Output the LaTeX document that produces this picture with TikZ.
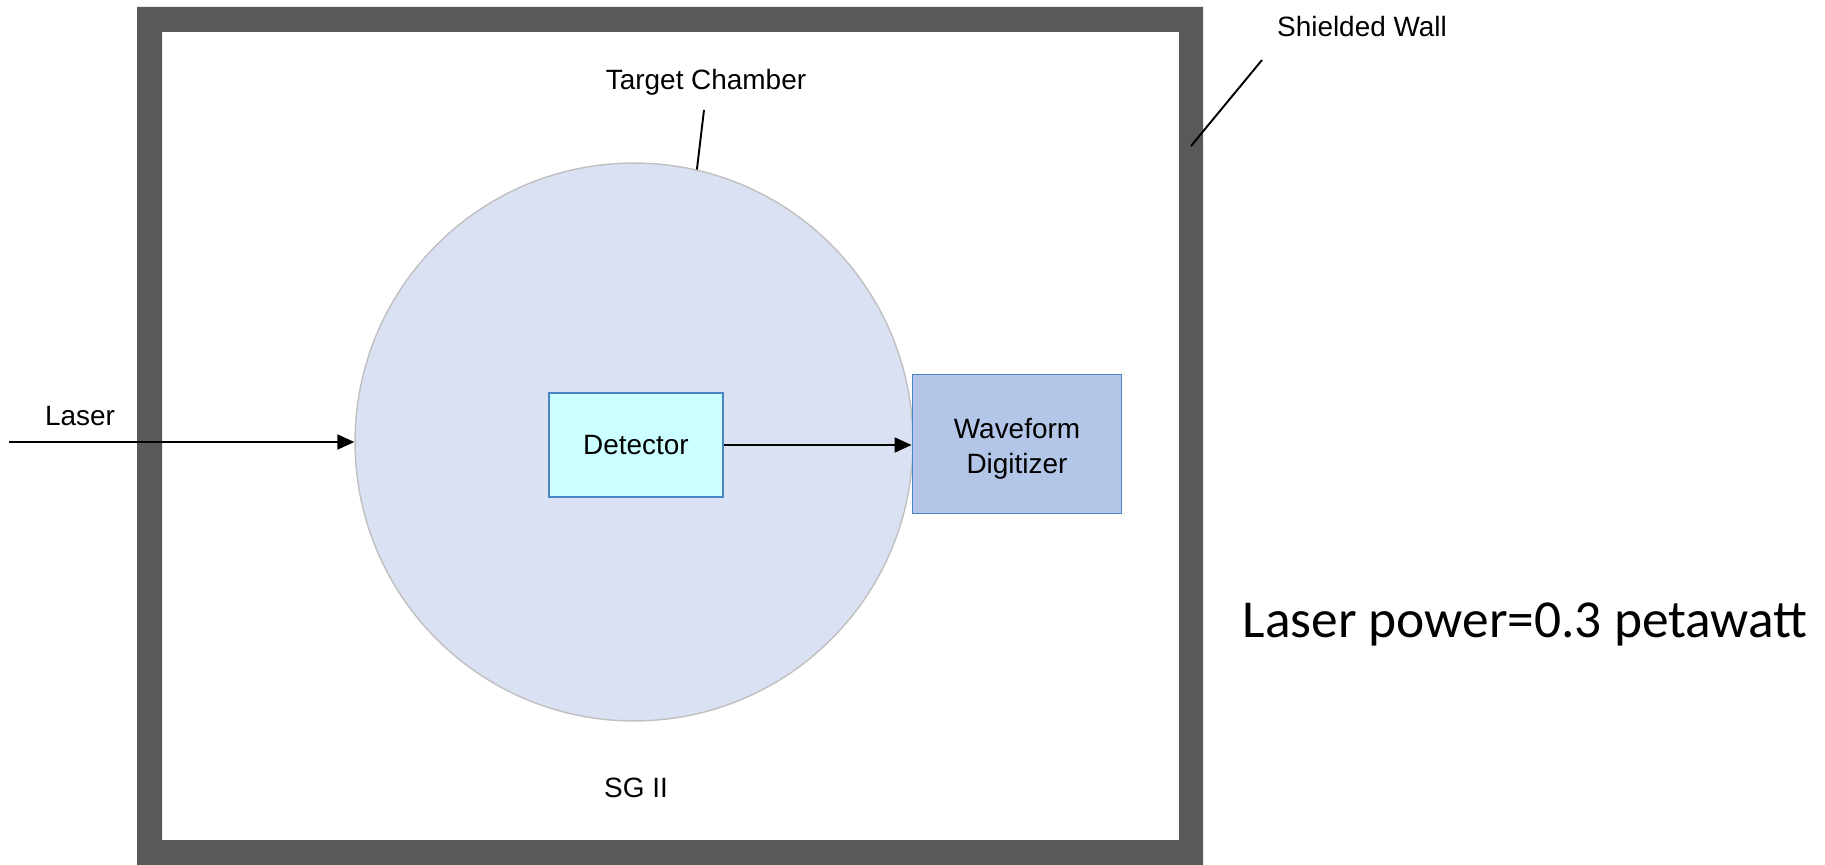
\documentclass[tikz,border=0pt]{standalone}
\usepackage{fontspec}
\setmainfont{Liberation Sans}
\newfontfamily\calibrifont{Carlito}
\usetikzlibrary{arrows.meta,positioning}
\definecolor{wallgray}{HTML}{595959}
\definecolor{chamberfill}{HTML}{DAE1F2}
\definecolor{chamberline}{HTML}{C0C0C0}
\definecolor{detfill}{HTML}{CCFFFF}
\definecolor{boxline}{HTML}{4A86C5}
\definecolor{digfill}{HTML}{B4C6E7}

\begin{document}
\begin{tikzpicture}
  [
  x=0.02cm, y=-0.02cm,
  font=\fontsize{15.9}{19.8}\selectfont, line width=1.1pt,
  >={Triangle[length=0.34cm,width=0.3cm]},
  chamber/.style={circle, minimum size=11.16cm, inner sep=0pt, fill=chamberfill, draw=chamberline, line width=0.8pt},
  detector/.style={rectangle, minimum width=3.48cm, minimum height=2.08cm, fill=detfill, draw=boxline},
  digitizer/.style={rectangle, minimum width=4.18cm, minimum height=2.78cm, fill=digfill, draw=boxline, align=center},
  tag/.style={inner sep=0pt}
  ]

\useasboundingbox (0,0) rectangle (1825,865);

% shielded wall
\fill[wallgray, even odd rule] (137,7) rectangle (1203,865) (162,32) rectangle (1179,840);

\node[chamber] (chamber) at (634,442) {};
\node[detector] (detector) at (636,445) {Detector};
\node[digitizer] (digitizer) at (1017,444) {\rule{0pt}{0.6cm}Waveform\\Digitizer};

\node[tag] (laser) at (80,416) {Laser};
\node[tag] (tclabel) at (706,82) {Target Chamber};
\node[tag] (wlabel) at (1362,27) {Shielded Wall};
\node[tag] (sg) at (636,788) {SG II};
\node[tag, font=\calibrifont\fontsize{30.4}{35}\selectfont] (power) at (1525,624) {Laser power=0.3 petawatt};

\coordinate (laserin) at (9,442);
\coordinate (tcend) at (704,110);
\coordinate (wend) at (1262,60);
\coordinate (wtip) at (1191,146);

\draw[->] (laserin) -- (chamber.west);
\draw[->] (detector.east) -- (detector.east -| digitizer.west);
\draw (tcend) -- (chamber.77);
\draw (wend) -- (wtip);

\end{tikzpicture}
\end{document}
